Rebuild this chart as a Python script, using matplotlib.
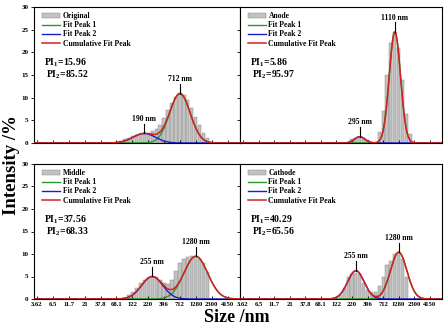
import numpy as np
import matplotlib.pyplot as plt

plt.rcParams['font.family'] = ['Liberation Serif', 'DejaVu Serif']
plt.rcParams['font.weight'] = 'bold'
plt.rcParams['mathtext.fontset'] = 'custom'
plt.rcParams['mathtext.rm'] = 'Liberation Serif:bold'
plt.rcParams['mathtext.it'] = 'Liberation Serif:bold'
plt.rcParams['mathtext.bf'] = 'Liberation Serif:bold'

# DLS size classes (nm), from 58.77 up to 2669
sizes = [58.77, 68.06, 78.82, 91.28, 105.7, 122.4, 141.8, 164.2, 190.1, 220.2,
         255.0, 295.3, 342.0, 396.1, 458.7, 531.2, 615.1, 712.4, 825.0, 955.4,
         1106, 1281, 1484, 1718, 1990, 2305, 2669]

tick_sizes = [3.615, 6.503, 11.7, 21.04, 37.84, 68.06, 122.4, 220.2, 396.1,
              712.4, 1281, 2305, 4145]
tick_labels = ['3.62', '6.5', '11.7', '21', '37.8', '68.1', '122', '220', '396',
               '712', '1280', '2300', '4150']

# intensity distribution (%) of each sample
original = [0, 0.3, 0.5, 0.8, 1.2, 1.5, 1.8, 2.0, 2.2, 2.3, 2.6, 3.0, 4.0, 5.5,
            7.2, 8.8, 10.2, 11.0, 10.6, 9.5, 7.8, 5.8, 3.9, 2.2, 1.0, 0.3, 0]
anode = [0, 0, 0, 0, 0, 0, 0, 0, 0.3, 0.8, 1.2, 1.4, 1.2, 0.7, 0.2, 0, 2.5,
         7.0, 15.0, 22.0, 24.5, 21.0, 14.0, 6.5, 2.0, 0, 0]
middle = [0, 0, 0, 0.3, 0.8, 1.5, 2.5, 3.5, 4.2, 4.7, 5.0, 4.9, 4.3, 3.6, 3.4,
          4.3, 6.2, 8.0, 9.0, 9.4, 9.5, 9.4, 9.0, 8.0, 6.0, 0, 0]
cathode = [0, 0, 0, 0, 0, 0, 1.0, 2.5, 5.0, 5.6, 5.8, 5.5, 3.5, 2.0, 1.5, 1.5,
           3.0, 5.0, 7.5, 8.5, 10.0, 10.2, 9.0, 5.0, 0, 0, 0]

samples = ['Original', 'Anode', 'Middle', 'Cathode']
intensities = [original, anode, middle, cathode]

# gaussian fits in log10(size): (centre nm, height %, width)
peak1 = [(712, 10.9, 0.165), (1110, 24.5, 0.092), (1280, 9.5, 0.19), (1280, 10.4, 0.135)]
peak2 = [(190, 2.1, 0.18), (295, 1.4, 0.085), (255, 5.0, 0.17), (255, 6.3, 0.135)]
pi1 = ['15.96', '5.86', '37.56', '40.29']
pi2 = ['85.52', '95.97', '68.33', '65.56']


def gauss(x, c, h, w):
    return h * np.exp(-0.5 * ((x - np.log10(c)) / w) ** 2)


fig = plt.figure(figsize=(4.45, 3.30), dpi=100)
L, M, R = 34 / 445, 240 / 445, 442 / 445
rows = [(1 - 143 / 330, 136 / 330), (1 - 299 / 330, 135 / 330)]
xs = np.linspace(0.5, 3.85, 800)
lx = np.log10(sizes)

for i in range(4):
    r, c = divmod(i, 2)
    x0 = L if c == 0 else M
    w = (M - L) if c == 0 else (R - M)
    ax = fig.add_axes([x0, rows[r][0], w, rows[r][1]])

    bars = ax.bar(lx, intensities[i], width=0.052, color='#c2c2c2',
                  edgecolor='#8c8c8c', linewidth=0.35, zorder=1)
    g1 = gauss(xs, *peak1[i])
    g2 = gauss(xs, *peak2[i])
    l1, = ax.plot(xs, g1, color='#2a9a2a', lw=1.0, zorder=2)
    l2, = ax.plot(xs, g2, color='#1c1cc8', lw=1.0, zorder=2)
    l3, = ax.plot(xs, g1 + g2, color='#d42020', lw=1.1, zorder=3)

    # peak position markers
    for p in (peak1[i], peak2[i]):
        px = np.log10(p[0])
        py = gauss(px, *peak1[i]) + gauss(px, *peak2[i])
        ax.plot([px, px], [py, py + 2.1], color='black', lw=0.8, zorder=4)
        ax.text(px, py + 2.3, '%d nm' % p[0], ha='center', va='bottom',
                fontsize=5.5, fontweight='bold')

    ax.text(0.05, 0.59, r'PI$_1$=' + pi1[i], transform=ax.transAxes,
            fontsize=7, fontweight='bold', va='center')
    ax.text(0.06, 0.50, r'PI$_2$=' + pi2[i], transform=ax.transAxes,
            fontsize=7, fontweight='bold', va='center')

    ax.legend([bars, l1, l2, l3],
              [samples[i], 'Fit Peak 1', 'Fit Peak 2', 'Cumulative Fit Peak'],
              loc='upper left', bbox_to_anchor=(0.02, 0.99), frameon=False,
              prop={'size': 5.5, 'weight': 'bold'}, handlelength=2.4,
              handleheight=0.8, handletextpad=0.3, labelspacing=0.15,
              borderaxespad=0.1)

    ax.set_xlim(np.log10(3.615) - 0.05, np.log10(4145) + 0.2)
    ax.set_ylim(0, 30)
    ax.set_xticks(np.log10(tick_sizes))
    ax.set_yticks([0, 5, 10, 15, 20, 25, 30])
    ax.tick_params(axis='x', direction='in', length=2.5, width=0.6, labelsize=4.8, pad=2)
    ax.tick_params(axis='y', direction='out', length=2.5, width=0.6, labelsize=5, pad=1.5)
    if r == 0:
        ax.set_xticklabels([])
    else:
        ax.set_xticklabels(tick_labels)
    if c == 1:
        ax.set_yticklabels([])
    for s in ax.spines.values():
        s.set_linewidth(0.8)

fig.text(12 / 445, 1 - 165 / 330, 'Intensity /%', rotation=90, ha='center',
         va='center', fontsize=13.5, fontweight='bold')
fig.text(237 / 445, 1 - 318 / 330, 'Size /nm', ha='center', va='center',
         fontsize=13, fontweight='bold')

fig.savefig('out.png', dpi=100)
